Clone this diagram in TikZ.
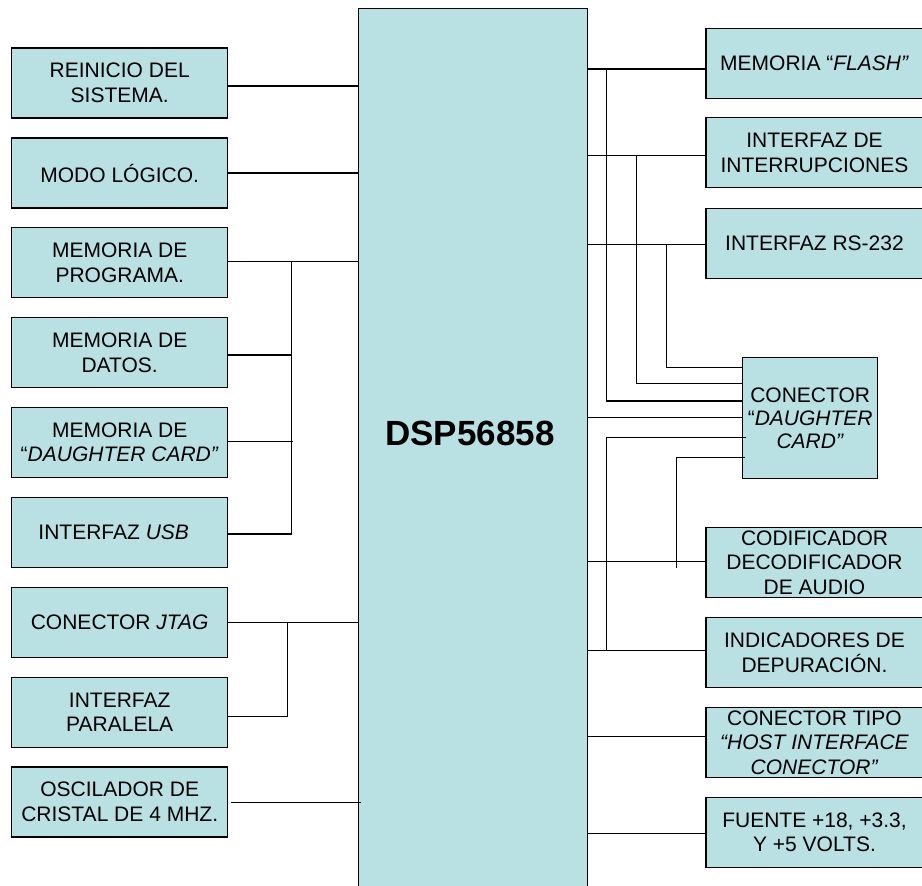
\documentclass[tikz,border=0pt]{standalone}
\usepackage{fontspec}
\setmainfont{Liberation Sans}
\definecolor{boxfill}{RGB}{185,224,227}
\begin{document}
\begin{tikzpicture}[x=1pt,y=-1pt,
  blk/.style={draw=black, fill=boxfill, line width=1.3pt, align=center, inner sep=1pt,
     font=\fontsize{21}{24.5}\selectfont},
  lbox/.style={blk, minimum width=216pt, minimum height=70pt},
  rbox/.style={blk, minimum width=217pt, minimum height=70pt},
  wire/.style={draw=black, line width=1.3pt}]
\useasboundingbox (0,0) rectangle (922,886);
\clip (0,0) rectangle (922,886);
\fill[white] (0,0) rectangle (922,886);

% central processor
\node[draw=black, fill=boxfill, line width=1.3pt, minimum width=229.4pt, minimum height=883.7pt, inner sep=0pt] (dsp) at (473,450.2) {};
\node[font=\fontsize{35}{40}\selectfont\bfseries] (dsplabel) at (470,433) {DSP56858};

% left column
\node[lbox] (l1) at (119.7,83)    {REINICIO DEL\\SISTEMA.};
\node[lbox] (l2) at (119.7,173)   {MODO LÓGICO.};
\node[lbox] (l3) at (119.7,262.7) {MEMORIA DE\\PROGRAMA.};
\node[lbox] (l4) at (119.7,352.7) {MEMORIA DE\\DATOS.};
\node[lbox] (l5) at (119.7,442.3) {MEMORIA DE\\“\textit{DAUGHTER CARD”}};
\node[lbox] (l6) at (119.7,532.7) {\hspace*{-12pt}INTERFAZ \textit{USB}};
\node[lbox] (l7) at (119.7,622.2) {CONECTOR \textit{JTAG}};
\node[lbox] (l8) at (119.7,712.2) {INTERFAZ\\PARALELA};
\node[lbox] (l9) at (119.7,802)   {OSCILADOR DE\\CRISTAL DE 4 MHZ.};

% right column
\node[rbox] (r1) at (814.5,63.3)  {MEMORIA “\textit{FLASH”}};
\node[rbox] (r2) at (814.5,152.7) {INTERFAZ DE\\INTERRUPCIONES};
\node[rbox] (r3) at (814.5,243.3) {INTERFAZ RS-232};
\node[rbox] (r4) at (814.5,562.7) {CODIFICADOR\\DECODIFICADOR\\DE AUDIO};
\node[rbox] (r5) at (814.5,652.7) {INDICADORES DE\\DEPURACIÓN.};
\node[rbox] (r6) at (814.5,742.7) {CONECTOR TIPO\\\textit{“HOST INTERFACE}\\\textit{CONECTOR”}};
\node[rbox] (r7) at (814.5,832.2) {FUENTE +18, +3.3,\\Y +5 VOLTS.};
\node[blk, minimum width=135pt, minimum height=120.6pt, font=\fontsize{21}{23}\selectfont] (dc) at (810.2,418) {CONECTOR\\“\textit{DAUGHTER}\\\textit{CARD”}};

% bus x positions
\coordinate (lbus1) at (291.7,0);
\coordinate (lbus2) at (287.3,0);
\coordinate (ba) at (606.7,0);
\coordinate (bb) at (636.7,0);
\coordinate (bc) at (666.7,0);
\coordinate (bd) at (676.7,0);

% left connection points
\coordinate (l1p) at ([yshift=-3pt]l1.east);
\coordinate (l2p) at (l2.east);
\coordinate (l3p) at ([yshift=1pt]l3.east);
\coordinate (l4p) at ([yshift=-2.3pt]l4.east);
\coordinate (l5p) at ([yshift=0.6pt]l5.east);
\coordinate (l6p) at ([yshift=-1.3pt]l6.east);
\coordinate (l7p) at ([yshift=-0.5pt]l7.east);
\coordinate (l8p) at ([yshift=-4.5pt]l8.east);
\coordinate (l9p) at ([xshift=3pt,yshift=-0.7pt]l9.east);

\draw[wire] (l1p) -- (l1p -| dsp.west);
\draw[wire] (l2p) -- (l2p -| dsp.west);
\draw[wire] (l3p) -- (l3p -| dsp.west);
\draw[wire] (l3p -| lbus1) -- (l6p -| lbus1);
\draw[wire] (l4p) -- (l4p -| lbus1);
\draw[wire] (l5p) -- ([xshift=1.5pt]l5p -| lbus1);
\draw[wire] (l6p) -- (l6p -| lbus1);
\draw[wire] (l7p) -- (l7p -| dsp.west);
\draw[wire] (l7p -| lbus2) -- (l8p -| lbus2);
\draw[wire] (l8p) -- (l8p -| lbus2);
\draw[wire] (l9p) -- ([xshift=3pt]l9p -| dsp.west);

% right connection points
\coordinate (r1p) at ([yshift=-5.7pt]r1.west);
\coordinate (r2p) at ([yshift=-3pt]r2.west);
\coordinate (r3p) at ([yshift=-1pt]r3.west);
\coordinate (r4p) at ([yshift=1pt]r4.west);
\coordinate (r5p) at ([yshift=2pt]r5.west);
\coordinate (r6p) at ([yshift=6pt]r6.west);
\coordinate (r7p) at ([yshift=-1pt]r7.west);

\foreach \r in {r1p,r2p,r3p,r4p,r5p,r6p,r7p}
  \draw[wire] (\r) -- (\r -| dsp.east);

% connector "daughter card" wiring
\draw[wire] (r1p -| ba) |- ([yshift=17pt]dc.west);
\draw[wire] (r2p -| bb) |- ([yshift=34.7pt]dc.west);
\draw[wire] (r3p -| bc) |- ([yshift=50.3pt]dc.west);
\draw[wire] ([yshift=0.7pt]dc.west) -- ([yshift=0.7pt]dc.west -| dsp.east);
\draw[wire] (r5p -| ba) |- ([xshift=4pt,yshift=-19.7pt]dc.west);
\draw[wire] ([yshift=-6pt]r4p -| bd) |- ([xshift=3pt,yshift=-39.7pt]dc.west);
\end{tikzpicture}
\end{document}
